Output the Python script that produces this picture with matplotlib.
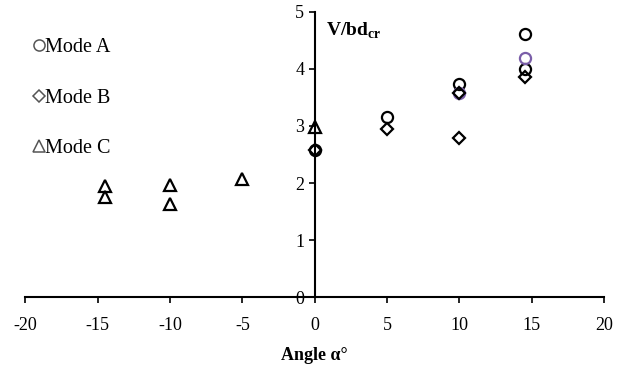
import matplotlib
matplotlib.use("Agg")
import matplotlib.pyplot as plt

plt.rcParams['font.family'] = ['Liberation Serif', 'DejaVu Serif']
plt.rcParams['axes.unicode_minus'] = False
plt.rcParams['mathtext.fontset'] = 'custom'
plt.rcParams['mathtext.rm'] = 'Liberation Serif'
plt.rcParams['mathtext.bf'] = 'Liberation Serif:bold'

# Data
modeA_x = [0, 5, 10, 14.5, 14.5]
modeA_y = [2.57, 3.16, 3.74, 4.61, 4.0]
modeA2_x = [10, 14.5]
modeA2_y = [3.57, 4.19]
modeB_x = [0, 5, 10, 10, 14.5]
modeB_y = [2.57, 2.94, 2.79, 3.58, 3.86]
modeC_x = [-14.5, -14.5, -10, -10, -5, 0]
modeC_y = [1.94, 1.76, 1.96, 1.63, 2.07, 2.99]

xticks = [-20, -15, -10, -5, 0, 5, 10, 15, 20]
yticks = [0, 1, 2, 3, 4, 5]

fig = plt.figure(figsize=(6.3, 3.7), dpi=100)
ax = fig.add_axes([0.04, 0.197, 0.919, 0.771])

mk = dict(linestyle='none', markerfacecolor='none', markeredgewidth=1.6, markersize=8)
ax.plot(modeA_x, modeA_y, marker='o', color='black', label='Mode A', **mk)
ax.plot(modeA2_x, modeA2_y, marker='o', color='#7a5ea8', **mk)
ax.plot(modeB_x, modeB_y, marker='D', color='black', label='Mode B',
        linestyle='none', markerfacecolor='none', markeredgewidth=1.6, markersize=6)
ax.plot(modeC_x, modeC_y, marker='^', color='black', label='Mode C', **mk)

ax.set_xlim(-20, 20)
ax.set_ylim(0, 5)
ax.spines['left'].set_position(('data', 0))
ax.spines['right'].set_visible(False)
ax.spines['top'].set_visible(False)
for s in ['left', 'bottom']:
    ax.spines[s].set_linewidth(1.5)
ax.set_xticks(xticks)
ax.set_yticks(yticks)
ax.tick_params(axis='both', direction='out', length=4, width=1.2, labelsize=13)
ax.tick_params(axis='x', pad=10)

ax.text(0.8, 4.66, r'V/bd$_{\mathbf{cr}}$', fontsize=14, fontweight='bold', va='center')
ax.set_xlabel('Angle α°', fontsize=13, fontweight='bold', labelpad=10)

leg = ax.legend(loc='upper left', bbox_to_anchor=(-0.025, 0.971), frameon=False,
                fontsize=14.5, handletextpad=-0.2, labelspacing=1.55, handlelength=1.0,
                markerscale=1.0)
for h in leg.legend_handles:
    h.set_markeredgecolor('#555555')
    h.set_markeredgewidth(1.1)

fig.savefig('out.png', dpi=100)
